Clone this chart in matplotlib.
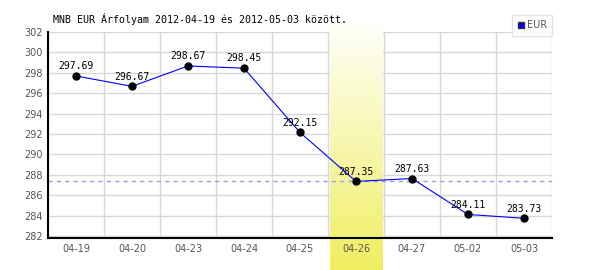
import numpy as np
import matplotlib.pyplot as plt
from matplotlib.lines import Line2D

# adatok
dates = ['04-19', '04-20', '04-23', '04-24', '04-25', '04-26', '04-27', '05-02', '05-03']
rates = [297.69, 296.67, 298.67, 298.45, 292.15, 287.35, 287.63, 284.11, 283.73]
highlight = 5          # 04-26
ref_level = 287.35
y_ticks = list(range(282, 303, 2))
title = 'MNB EUR Árfolyam 2012-04-19 és 2012-05-03 között.'

fig = plt.figure(figsize=(6, 2.7), dpi=100)
ax = fig.add_axes([48 / 600, 1 - 238 / 270, 504 / 600, 206 / 270])
ax.set_facecolor('white')

x = np.arange(len(dates))

ax.set_yticks(y_ticks)
ax.set_xticks(x)
ax.set_xticklabels(dates)
ax.tick_params(which='both', length=0)
ax.tick_params(axis='y', pad=4, labelsize=7, labelcolor='#555555')
ax.tick_params(axis='x', pad=4, labelsize=7, labelcolor='#555555')

# rács kézzel, hogy a sáv eltakarja
for yv in y_ticks:
    ax.axhline(yv, color='#d8d8d8', lw=1, zorder=0.5)
for xv in np.arange(len(dates) + 1) - 0.5:
    ax.axvline(xv, color='#d8d8d8', lw=1, zorder=0.5)

# kiemelt nap sávja (színátmenet)
grad = np.linspace(0, 1, 256)[:, None]
c_top = np.array([255, 255, 250]) / 255
c_bot = np.array([240, 238, 96]) / 255
img = c_top + (c_bot - c_top) * grad[..., None]
img = np.repeat(img, 2, axis=1)
ax.imshow(img, extent=[highlight - 0.47, highlight + 0.47, 278.66, 302.98],
          aspect='auto', origin='upper', zorder=1, clip_on=False)
ax.set_xlim(-0.5, len(dates) - 0.5)
ax.set_ylim(281.8, 302)

ax.axhline(ref_level, color='#9999ee', lw=1, ls=(0, (3, 3)), zorder=2)
ax.plot(x, rates, color='#0000ff', lw=0.8, zorder=3)
ax.plot(x, rates, 'o', color='black', ms=5, zorder=4)
for xi, v in zip(x, rates):
    ax.annotate(f'{v:.2f}', (xi, v), xytext=(0, 7), textcoords='offset points',
                ha='center', va='center', fontsize=7, family='DejaVu Sans Mono',
                zorder=5)

for s in ['top', 'right']:
    ax.spines[s].set_visible(False)
for s in ['left', 'bottom']:
    ax.spines[s].set_linewidth(1.5)
    ax.spines[s].set_zorder(6)

fig.text(53 / 600, 1 - 19 / 270, title, family='DejaVu Sans Mono', fontsize=7.2,
         va='center', ha='left')

handle = Line2D([], [], marker='s', ls='', markerfacecolor='#0000ff',
                markeredgecolor='#333333', ms=4.5)
leg = fig.legend([handle], ['EUR'], loc='upper right',
                 bbox_to_anchor=(552 / 600, 1 - 15 / 270), fancybox=False,
                 edgecolor='#dddddd', fontsize=7, handlelength=0.7,
                 handletextpad=0.25, borderpad=0.55, borderaxespad=0)
leg.get_frame().set_linewidth(1)
for t in leg.get_texts():
    t.set_color('#555555')

fig.savefig('out.png', dpi=100)
